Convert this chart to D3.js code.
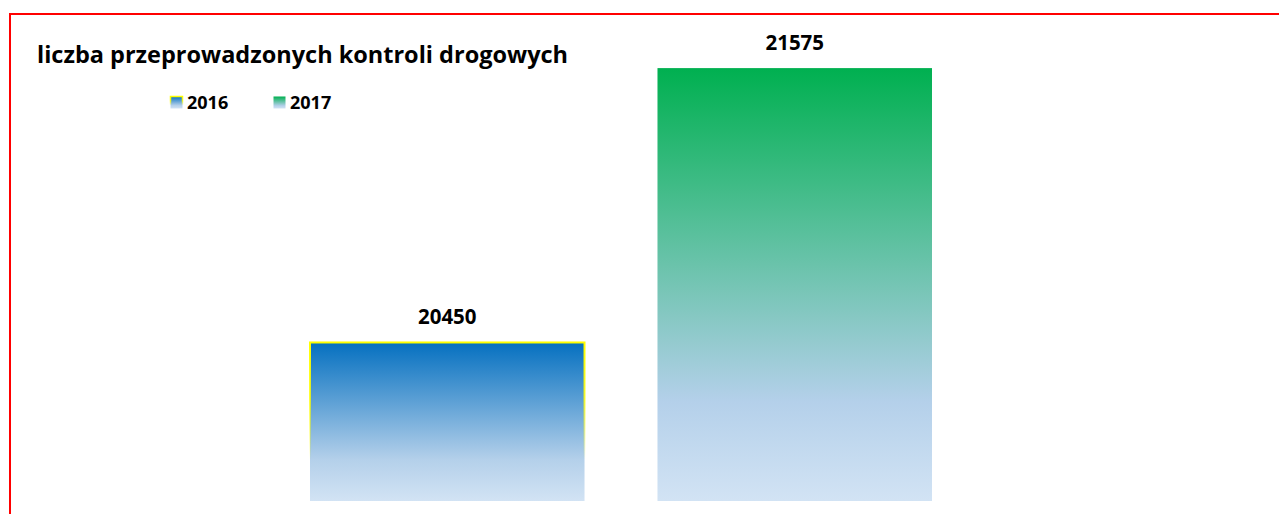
<!DOCTYPE html>
<html>
<head>
<meta charset="utf-8">
<script src="https://cdn.jsdelivr.net/npm/d3@7"></script>
<style>
  body { margin: 0; background: #fff; overflow: hidden; }
  svg { display: block; }
  text { font-family: "Open Sans", sans-serif; font-weight: bold; fill: #000; }
</style>
</head>
<body>
<div id="chart"></div>
<script>
// data
const title = 'liczba przeprowadzonych kontroli drogowych'
const series = ['2016', '2017']
const values = [20450, 21575]

const W = 1279, H = 514

const svg = d3.select('#chart')
  .append('svg')
  .attr('width', W)
  .attr('height', H)

// gradients (Excel-like fills)
const defs = svg.append('defs')
const fills = [
  [['0', '#0570c0'], ['0.74', '#b4d0ea'], ['1', '#d2e3f4']],
  [['0', '#00b050'], ['0.77', '#b4d0ea'], ['1', '#d2e3f4']]
]
fills.forEach(function (stops, i) {
  const g = defs.append('linearGradient')
    .attr('id', 'fill' + i)
    .attr('x1', 0).attr('y1', 0).attr('x2', 0).attr('y2', 1)
  stops.forEach(function (s) {
    g.append('stop').attr('offset', s[0]).attr('stop-color', s[1])
  })
})
// fading yellow outline on the 2016 bar
const yg = defs.append('linearGradient')
  .attr('id', 'yellowEdge')
  .attr('x1', 0).attr('y1', 0).attr('x2', 0).attr('y2', 1)
yg.append('stop').attr('offset', '0').attr('stop-color', '#ffff00').attr('stop-opacity', 1)
yg.append('stop').attr('offset', '0.35').attr('stop-color', '#ffff00').attr('stop-opacity', 0.8)
yg.append('stop').attr('offset', '0.74').attr('stop-color', '#ffff00').attr('stop-opacity', 0)

// red frame (right and bottom edges run off the picture)
svg.append('rect')
  .attr('x', 10)
  .attr('y', 14)
  .attr('width', W + 20)
  .attr('height', H + 20)
  .attr('fill', 'none')
  .attr('stroke', '#ff0000')
  .attr('stroke-width', 2)

// scales
const x = d3.scaleBand()
  .domain(series)
  .range([310, 932])
  .paddingInner(0.21)
  .paddingOuter(0)

const y = d3.scaleLinear()
  .domain([19800, 21600])
  .range([501, 62])

// bars
svg.selectAll('rect.bar')
  .data(values)
  .enter()
  .append('rect')
  .attr('class', 'bar')
  .attr('x', function (d, i) { return x(series[i]) })
  .attr('y', function (d) { return y(d) })
  .attr('width', x.bandwidth())
  .attr('height', function (d) { return y.range()[0] - y(d) })
  .attr('fill', function (d, i) { return 'url(#fill' + i + ')' })
  .attr('stroke', function (d, i) { return i === 0 ? 'url(#yellowEdge)' : 'none' })
  .attr('stroke-width', 2)

// data labels
svg.selectAll('text.label')
  .data(values)
  .enter()
  .append('text')
  .attr('class', 'label')
  .attr('x', function (d, i) { return x(series[i]) + x.bandwidth() / 2 })
  .attr('y', function (d) { return y(d) - 18 })
  .attr('text-anchor', 'middle')
  .style('font-size', '20.5px')
  .text(function (d) { return d })

// title
svg.append('text')
  .attr('x', 37)
  .attr('y', 62.5)
  .style('font-size', '23.5px')
  .text(title)

// legend
const legend = svg.selectAll('g.legend')
  .data(series)
  .enter()
  .append('g')
  .attr('class', 'legend')
  .attr('transform', function (d, i) { return 'translate(' + (170 + i * 103) + ',96)' })

legend.append('rect')
  .attr('x', 0.5)
  .attr('y', 0.5)
  .attr('width', 12)
  .attr('height', 12)
  .attr('fill', function (d, i) { return 'url(#fill' + i + ')' })
  .attr('stroke', function (d, i) { return i === 0 ? 'url(#yellowEdge)' : 'none' })
  .attr('stroke-width', 1.5)

legend.append('text')
  .attr('x', 17)
  .attr('y', 12.5)
  .style('font-size', '18px')
  .text(function (d) { return d })
</script>
</body>
</html>
